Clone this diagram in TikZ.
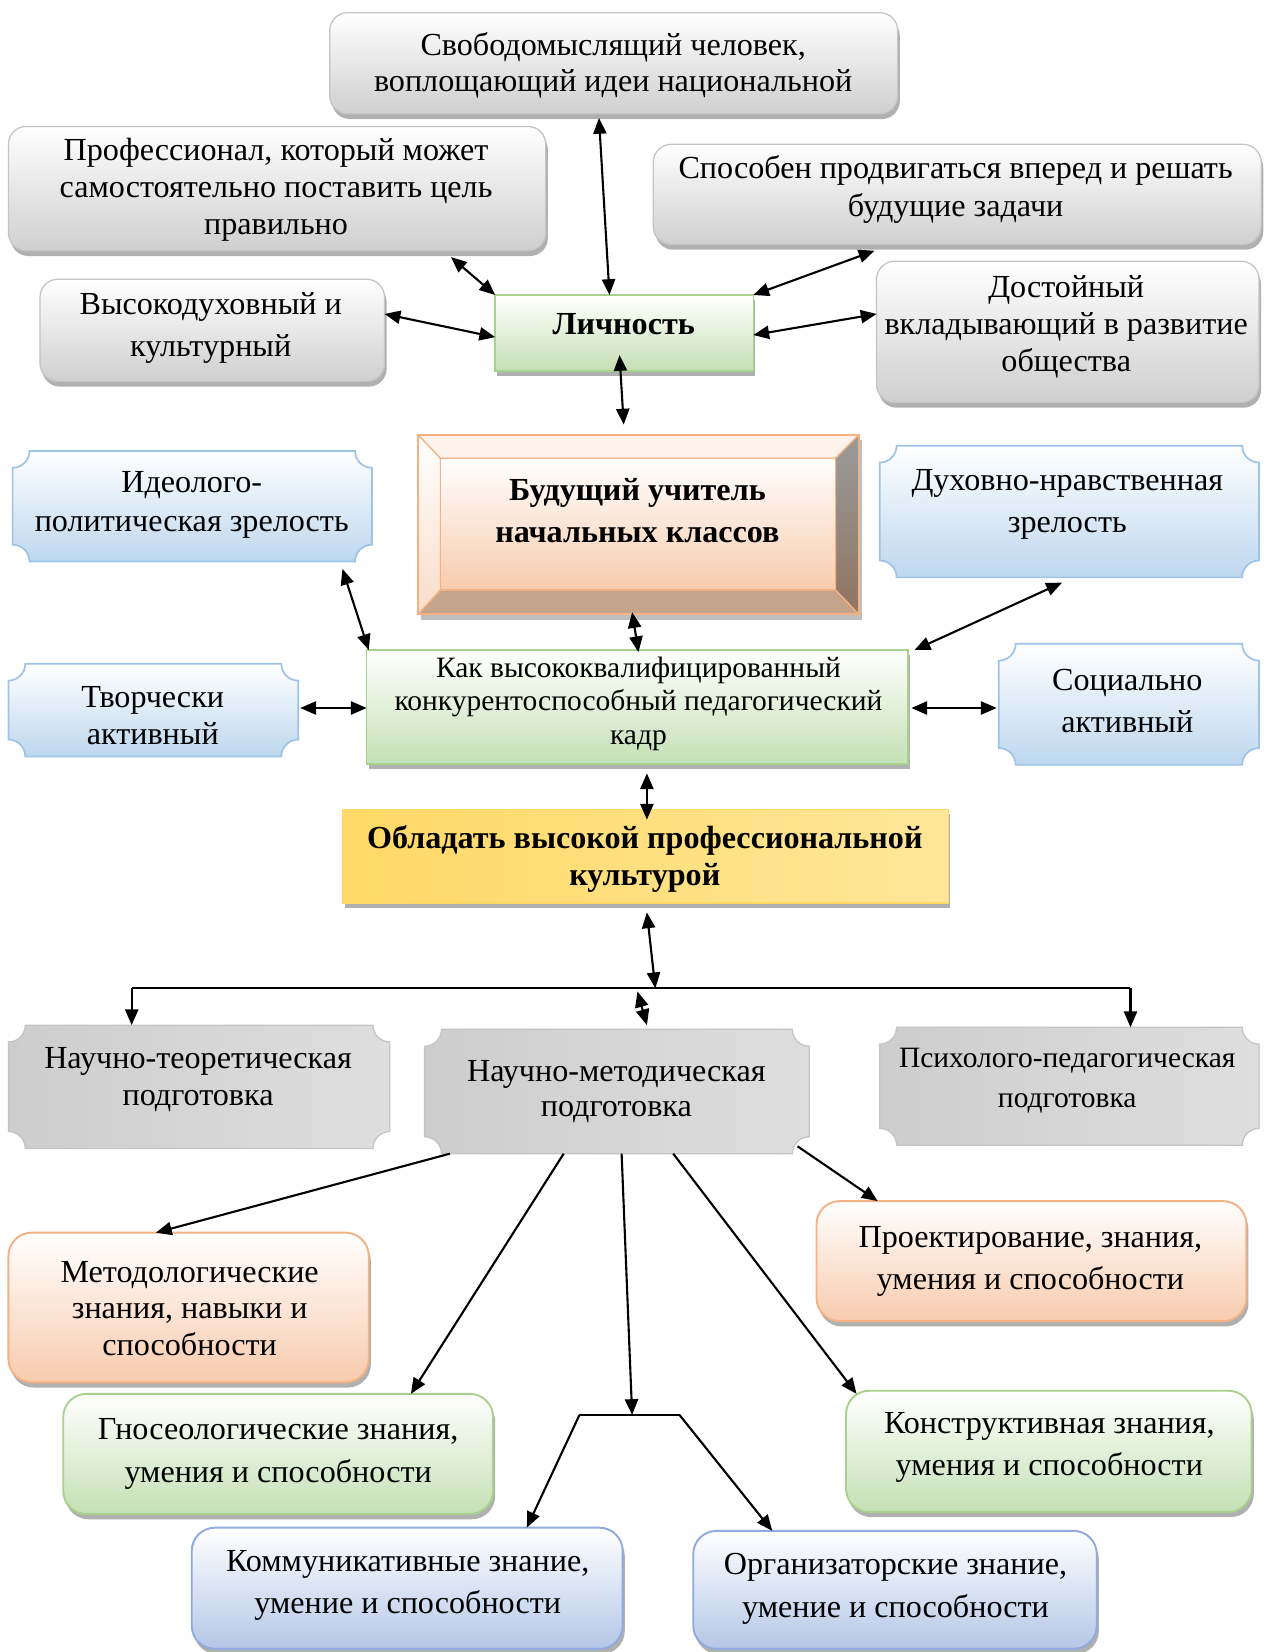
\documentclass[tikz,border=0pt]{standalone}
\usepackage{fontspec}
\setmainfont{Liberation Serif}
\usetikzlibrary{arrows.meta,shadows,calc}

\definecolor{grayF}{HTML}{CFCFCF}
\definecolor{grayD}{HTML}{C4C4C4}
\definecolor{shadowG}{HTML}{A3A3A3}
\definecolor{greenF}{HTML}{C5E0B4}
\definecolor{greenD}{HTML}{A9D18E}
\definecolor{blueF}{HTML}{BDD7EE}
\definecolor{blueD}{HTML}{9DC3E6}
\definecolor{blueS}{HTML}{9AB1CC}
\definecolor{bluetwoF}{HTML}{B4C7E7}
\definecolor{bluetwoD}{HTML}{8FAADC}
\definecolor{orangeF}{HTML}{F8CBAD}
\definecolor{orangeD}{HTML}{F4B183}
\definecolor{yellowD}{HTML}{FFD966}
\definecolor{yellowL}{HTML}{FFF2CC}
\definecolor{yellowM}{HTML}{FFE699}
\definecolor{scoopL}{HTML}{CDCDCD}
\definecolor{scoopM}{HTML}{E8E8E8}
\definecolor{scoopR}{HTML}{DEDEDE}
\definecolor{bevT}{HTML}{FEF3EC}
\definecolor{bevLb}{HTML}{F9DCC8}
\definecolor{bevRt}{HTML}{9B9B9B}
\definecolor{bevRb}{HTML}{8F7462}
\definecolor{bevB}{HTML}{C5A48C}

\newcommand{\scoopbox}[3]{%
  \path[#3] let \p1=(#1.south west), \p2=(#1.north east) in
   (\x1,\y1+#2) -- (\x1,\y2-#2) arc[start angle=-90,end angle=0,radius=#2]
   -- (\x2-#2,\y2) arc[start angle=180,end angle=270,radius=#2]
   -- (\x2,\y1+#2) arc[start angle=90,end angle=180,radius=#2]
   -- (\x1+#2,\y1) arc[start angle=0,end angle=90,radius=#2] -- cycle;}

\tikzset{
  plain/.style={inner sep=0pt, outer sep=0pt},
  shd/.style={drop shadow={shadow xshift=2pt,shadow yshift=-5pt,fill=shadowG,opacity=0.85}},
  gbox/.style={plain, shd, rounded corners=17pt, draw=grayD, line width=1.2pt, top color=white, bottom color=grayF},
  grect/.style={plain, shd, draw=greenD, line width=1.5pt, top color=white, bottom color=greenF},
  ybox/.style={plain, shd, draw=yellowD, line width=1.2pt, left color=yellowD, middle color=yellowL, right color=yellowM},
  obox/.style={plain, shd, rounded corners=22pt, draw=orangeD, line width=1.8pt, top color=white, bottom color=orangeF},
  grbox/.style={plain, shd, rounded corners=22pt, draw=greenD, line width=1.8pt, top color=white, bottom color=greenF},
  bbox/.style={plain, shd, rounded corners=22pt, draw=bluetwoD, line width=1.8pt, top color=white, bottom color=bluetwoF},
  bscoop/.style={draw=blueD, line width=1.6pt, top color=white, bottom color=blueF},
  gscoop/.style={draw=grayD, line width=1.2pt, left color=scoopL, middle color=scoopM, right color=scoopR},
  txt/.style={align=center, inner sep=0pt, font=\fontsize{30.5}{35}\selectfont},
  txtw/.style={align=center, inner sep=0pt, font=\fontsize{30.5}{40}\selectfont},
  arr/.style={line width=2pt, <->},
  sarr/.style={line width=2pt, ->},
  bus/.style={line width=2pt}
}

\begin{document}
\begin{tikzpicture}[x=1pt,y=1pt,>={Triangle[length=15pt,width=12.5pt]}]
\fill[white] (0,0) rectangle (1201,-1568);
\useasboundingbox (0,0) rectangle (1201,-1568);

% ---------- shapes ----------
\node[gbox, minimum width=539pt, minimum height=96pt] (free) at (582.5,-60) {};
\node[gbox, minimum width=510pt, minimum height=118pt] (prof) at (263,-179) {};
\node[gbox, minimum width=577pt, minimum height=95pt] (spos) at (908.5,-184.5) {};
\node[gbox, minimum width=327pt, minimum height=97pt] (vys) at (201.5,-313.5) {};
\node[grect, minimum width=245pt, minimum height=72pt] (lich) at (592.5,-316) {};
\node[gbox, minimum width=363pt, minimum height=134pt] (dost) at (1013.5,-315) {};
\node[plain, minimum width=418pt, minimum height=170pt] (bud) at (606,-498) {};
\node[plain, minimum width=341pt, minimum height=105pt] (ideo) at (182.5,-480.5) {};
\node[plain, minimum width=360pt, minimum height=125pt] (duh) at (1015,-485.5) {};
\node[grect, minimum width=514pt, minimum height=108pt] (kak) at (605,-671) {};
\node[plain, minimum width=275pt, minimum height=88pt] (tvor) at (145.5,-674) {};
\node[plain, minimum width=247pt, minimum height=115pt] (soc) at (1071.5,-668.5) {};
\node[ybox, minimum width=575pt, minimum height=89pt] (obl) at (612.5,-812.5) {};
\node[plain, minimum width=362pt, minimum height=117pt] (nt) at (189,-1031.5) {};
\node[plain, minimum width=365pt, minimum height=118pt] (nm) at (585.5,-1036) {};
\node[plain, minimum width=360pt, minimum height=112pt] (pp) at (1015,-1031) {};
\node[obox, minimum width=342pt, minimum height=142pt] (met) at (179,-1241) {};
\node[obox, minimum width=408pt, minimum height=114pt] (proj) at (979,-1197) {};
\node[grbox, minimum width=408pt, minimum height=114pt] (gno) at (264,-1380) {};
\node[grbox, minimum width=385pt, minimum height=115pt] (kon) at (995.5,-1377.5) {};
\node[bbox, minimum width=409pt, minimum height=115pt] (kom) at (386.5,-1507.5) {};
\node[bbox, minimum width=383pt, minimum height=112pt] (org) at (849.5,-1509) {};

% scooped boxes
\foreach \bx in {ideo,duh,tvor,soc}{
  \scoopbox{\bx}{16pt}{fill=blueS, shift={(3pt,-6pt)}}
  \scoopbox{\bx}{16pt}{bscoop}
}
\foreach \bx in {nt,nm,pp}{
  \scoopbox{\bx}{16pt}{fill=shadowG, shift={(4pt,-6pt)}}
  \scoopbox{\bx}{16pt}{gscoop}
}

% bevel box
\fill[shadowG, opacity=0.7] ([shift={(3pt,-5pt)}]bud.south west) rectangle ([shift={(3pt,-5pt)}]bud.north east);
\coordinate (bi1) at ([shift={(21pt,-22pt)}]bud.north west);
\coordinate (bi2) at ([shift={(-22pt,-22pt)}]bud.north east);
\coordinate (bi3) at ([shift={(-22pt,23pt)}]bud.south east);
\coordinate (bi4) at ([shift={(21pt,23pt)}]bud.south west);
\path[fill=bevT, draw=orangeD, line width=1.2pt] (bud.north west) -- (bud.north east) -- (bi2) -- (bi1) -- cycle;
\path[top color=white, bottom color=bevLb, draw=orangeD, line width=1.2pt] (bud.north west) -- (bi1) -- (bi4) -- (bud.south west) -- cycle;
\path[top color=bevRt, bottom color=bevRb, draw=orangeD, line width=1.2pt] (bud.north east) -- (bud.south east) -- (bi3) -- (bi2) -- cycle;
\path[fill=bevB, draw=orangeD, line width=1.2pt] (bud.south west) -- (bi4) -- (bi3) -- (bud.south east) -- cycle;
\path[top color=white, bottom color=orangeF, draw=orangeD, line width=1.2pt] (bi4) rectangle (bi2);
\draw[orangeD, line width=2pt] (bud.south west) rectangle (bud.north east);

% ---------- texts ----------
\node[txt, font=\fontsize{30.5}{34}\selectfont] (t-free) at (582,-62) {Свободомыслящий человек,\\воплощающий идеи национальной};
\node[txt] (t-prof) at (262,-180) {Профессионал, который может\\самостоятельно поставить цель\\правильно};
\node[txt, font=\fontsize{30.5}{36}\selectfont] (t-spos) at (907,-180) {Способен продвигаться вперед и решать\\будущие задачи};
\node[txtw] (t-vys) at (200,-311) {Высокодуховный и\\культурный};
\node[txt, font=\fontsize{30.5}{35}\selectfont\bfseries] (t-lich) at (592,-308) {Личность};
\node[txt] (t-dost) at (1012,-310) {Достойный\\вкладывающий в развитие\\общества};
\node[txtw, font=\fontsize{30.5}{40}\selectfont\bfseries] (t-bud) at (605,-485) {Будущий учитель\\начальных классов};
\node[txt, font=\fontsize{30.5}{37}\selectfont] (t-ideo) at (182,-479) {Идеолого-\\политическая зрелость};
\node[txtw] (t-duh) at (1013,-479) {Духовно-нравственная\\зрелость};
\node[txt, font=\fontsize{28}{32}\selectfont] (t-kak) at (606,-668) {Как высококвалифицированный\\конкурентоспособный педагогический\\кадр};
\node[txt] (t-tvor) at (145,-679) {Творчески\\активный};
\node[txtw] (t-soc) at (1070,-665) {Социально\\активный};
\node[txt, font=\fontsize{30.5}{35}\selectfont\bfseries] (t-obl) at (612,-815) {Обладать высокой профессиональной\\культурой};
\node[txt] (t-nt) at (188,-1025) {Научно-теоретическая\\подготовка};
\node[txt, font=\fontsize{30.5}{34}\selectfont] (t-nm) at (585,-1036) {Научно-методическая\\подготовка};
\node[txt, font=\fontsize{28}{38}\selectfont] (t-pp) at (1013,-1026) {Психолого-педагогическая\\подготовка};
\node[txt] (t-met) at (180,-1242) {Методологические\\знания, навыки и\\способности};
\node[txtw] (t-proj) at (978,-1197) {Проектирование, знания,\\умения и способности};
\node[txtw, font=\fontsize{30.5}{41}\selectfont] (t-gno) at (264,-1380) {Гносеологические знания,\\умения и способности};
\node[txtw] (t-kon) at (996,-1374) {Конструктивная знания,\\умения и способности};
\node[txtw] (t-kom) at (387,-1505) {Коммуникативные знание,\\умение и способности};
\node[txtw] (t-org) at (850,-1508) {Организаторские знание,\\умение и способности};

% ---------- connectors ----------
\coordinate (busL) at (125,-938);
\coordinate (busR) at (1073,-938);
\coordinate (busC) at (622,-938);
\coordinate (busM) at (605,-941);
\coordinate (splitL) at (550,-1343);
\coordinate (splitR) at (645,-1343);
\coordinate (splitC) at (600,-1343);

\draw[arr] ([xshift=-14pt,yshift=-4pt]free.south) -- ([xshift=-14pt]lich.north);
\draw[arr] ([xshift=165pt,yshift=-6pt]prof.south) -- (lich.north west);
\draw[arr] ([yshift=15.5pt]vys.east) -- ([yshift=-4pt]lich.west);
\draw[arr] ([xshift=-78.5pt,yshift=-6pt]spos.south) -- (lich.north east);
\draw[arr] ([yshift=17pt]dost.west) -- ([yshift=-2pt]lich.east);
\draw[arr] ([xshift=-4.5pt,yshift=15pt]lich.south) -- ([xshift=-14pt,yshift=10pt]bud.north);
\draw[arr] ([xshift=-6pt,yshift=2pt]bud.south) -- ([xshift=1pt,yshift=-2pt]kak.north);
\draw[arr] ([xshift=142.5pt,yshift=-7pt]ideo.south) -- ([xshift=2pt]kak.north west);
\draw[arr] ([xshift=-7pt,yshift=-5pt]duh.south) -- ([xshift=6pt]kak.north east);
\draw[arr] ([xshift=2pt,yshift=2pt]tvor.east) -- ([yshift=-1pt]kak.west);
\draw[arr] ([xshift=3pt,yshift=-1pt]kak.east) -- ([xshift=-2pt,yshift=-3.5pt]soc.west);
\draw[arr] ([xshift=9pt,yshift=-9pt]kak.south) -- ([xshift=1.5pt,yshift=-10pt]obl.north);
\draw[arr] ([xshift=1.5pt,yshift=-9pt]obl.south) -- (busC);
\draw[bus] (busL) -- (busR);
\draw[sarr] (busL) -- (busL |- nt.north);
\draw[sarr] (busR) -- (busR |- pp.north);
\draw[arr] (busM) -- ([xshift=28.5pt,yshift=4pt]nm.north);

\draw[sarr] ([xshift=24pt]nm.south west) -- ([xshift=-31pt]met.north);
\draw[sarr] ([xshift=-50.5pt]nm.south) -- ([xshift=126pt]gno.north);
\draw[sarr] ([xshift=4.5pt]nm.south) -- (splitC);
\draw[bus] (splitL) -- (splitR);
\draw[sarr] (splitL) -- ([xshift=113.5pt]kom.north);
\draw[sarr] (splitR) -- ([xshift=-116.5pt]org.north);
\draw[sarr] ([xshift=53.5pt]nm.south) -- ([xshift=10pt,yshift=-3pt]kon.north west);
\draw[sarr] ([xshift=-11pt,yshift=7pt]nm.south east) -- ([xshift=58pt]proj.north west);
\end{tikzpicture}
\end{document}
